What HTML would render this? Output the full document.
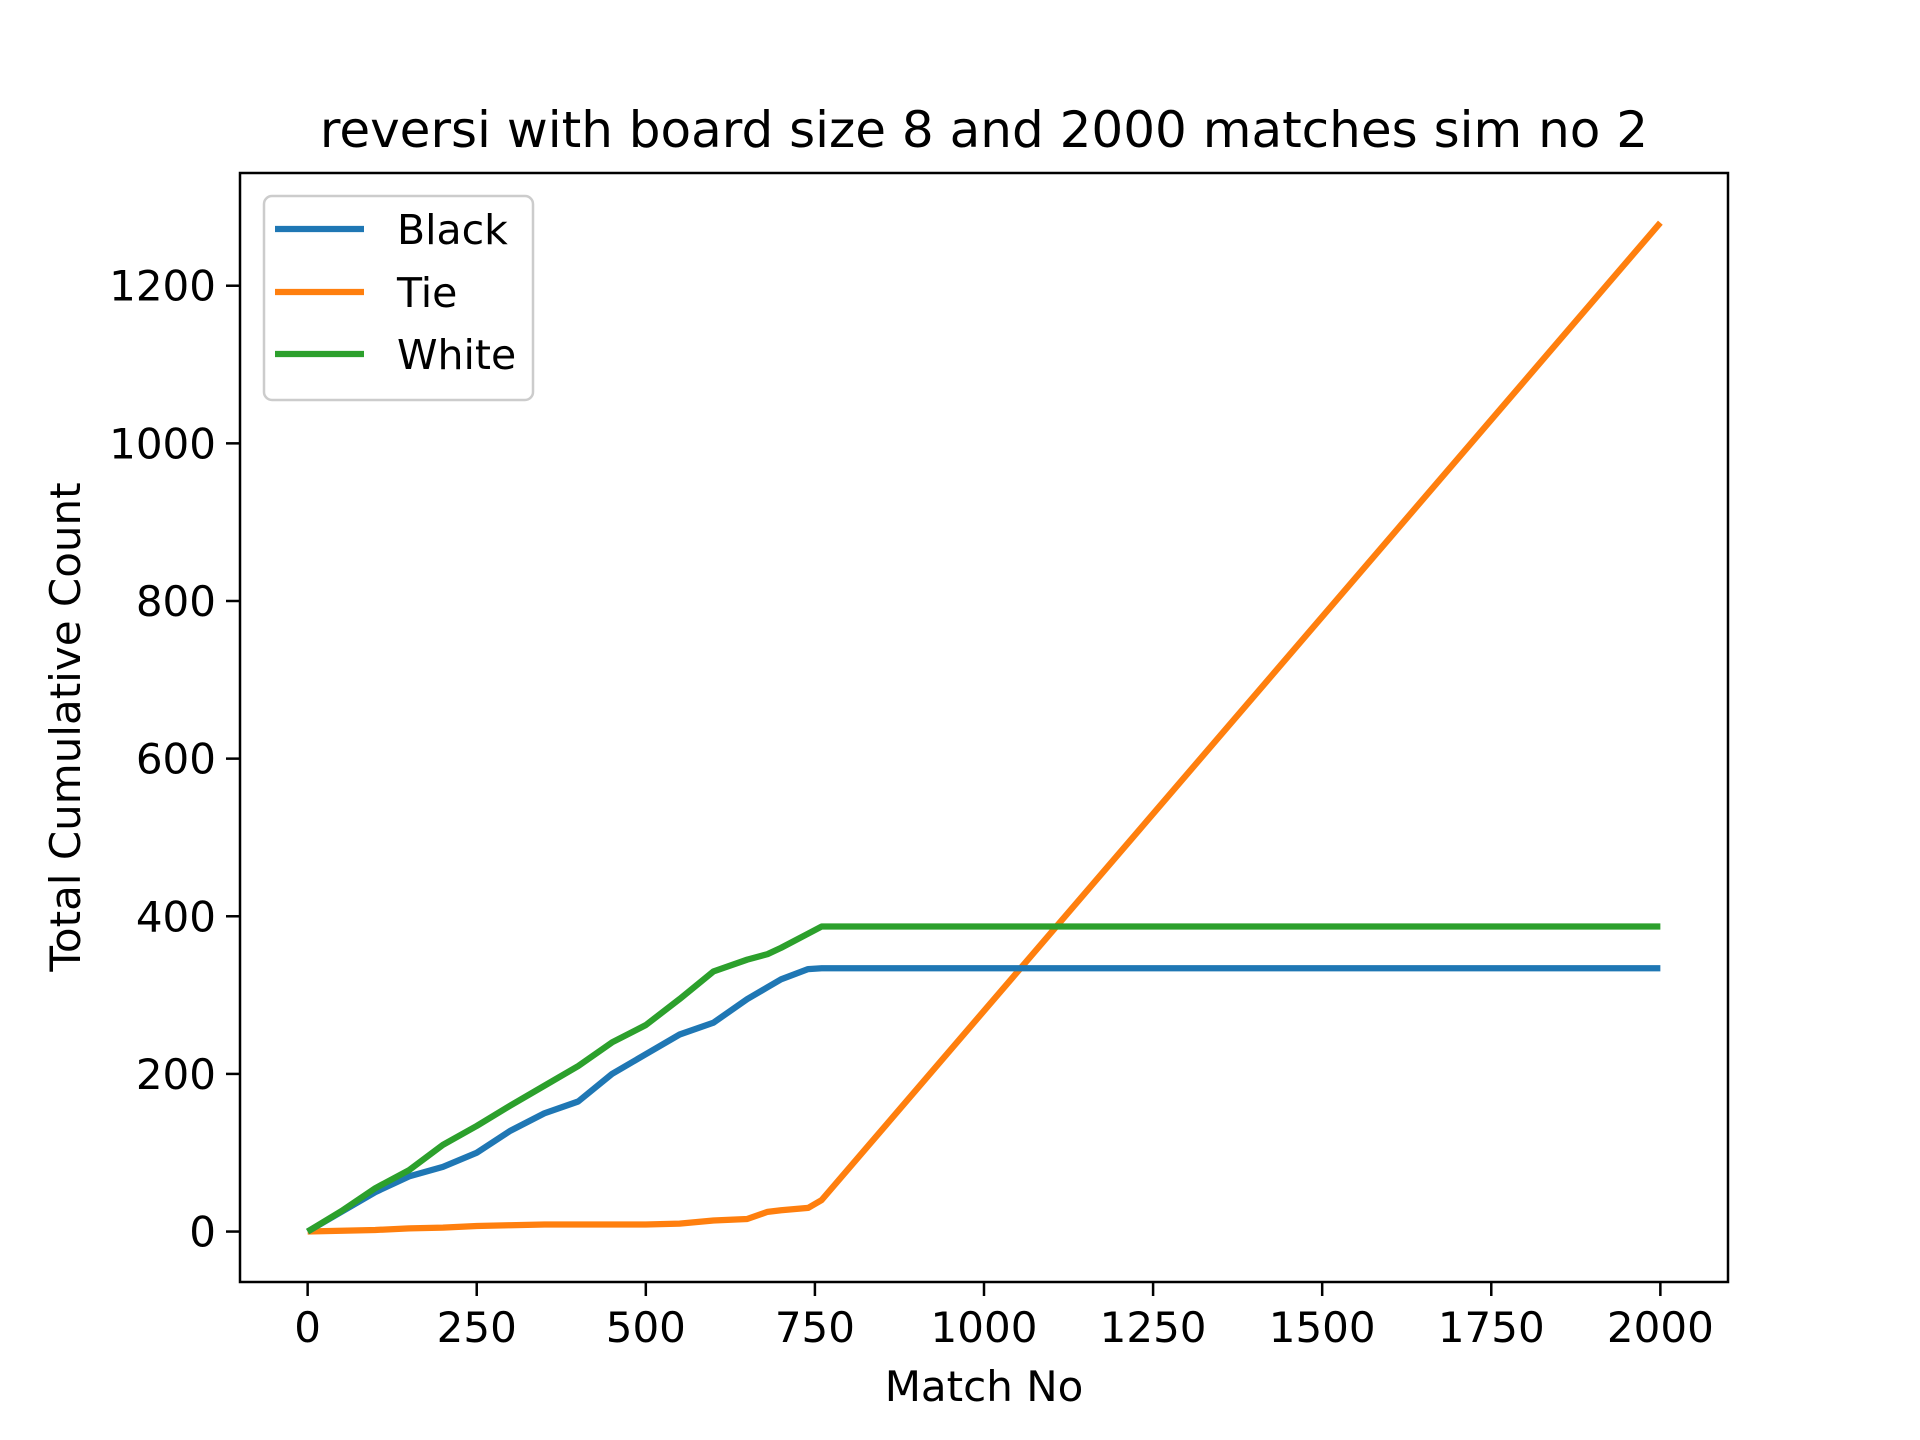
<!DOCTYPE html>
<html><head><meta charset="utf-8"><style>
html,body{margin:0;padding:0;background:#fff;}
svg{display:block;font-family:"DejaVu Sans","Liberation Sans",sans-serif;}
</style></head><body>
<svg id="chart" width="1920" height="1440" viewBox="0 0 1920 1440" xmlns="http://www.w3.org/2000/svg">
<rect width="1920" height="1440" fill="#fff"/>
<text x="984" y="147" font-size="50" text-anchor="middle">reversi with board size 8 and 2000 matches sim no 2</text>
<g id="plot"></g>
<rect x="240" y="173" width="1488" height="1109" fill="none" stroke="#000" stroke-width="2.5"/>
<g id="ticks"></g>
<text x="984" y="1401" font-size="42" text-anchor="middle">Match No</text>
<text transform="translate(80,727) rotate(-90)" font-size="42" text-anchor="middle">Total Cumulative Count</text>
<g>
<rect x="264" y="196" width="269" height="204" rx="8" fill="#fff" fill-opacity="0.8" stroke="#ccc" stroke-width="2.5"/>
<line x1="275" y1="229" x2="364" y2="229" stroke="#1f77b4" stroke-width="6.25"/>
<text x="397" y="244" font-size="41">Black</text>
<line x1="275" y1="292" x2="364" y2="292" stroke="#ff7f0e" stroke-width="6.25"/>
<text x="397" y="307" font-size="41">Tie</text>
<line x1="275" y1="354" x2="364" y2="354" stroke="#2ca02c" stroke-width="6.25"/>
<text x="397" y="369" font-size="41">White</text>
</g>
</svg>
<script>
const matches = [0,50,100,150,200,250,300,350,400,450,500,550,600,650,680,700,740,760,2000];
const blackVals = [0,25,50,70,82,100,128,150,165,200,225,250,265,295,310,320,333,334,334];
const tieVals = [0,1,2,4,5,7,8,9,9,9,9,10,14,16,25,27,30,40,1280];
const whiteVals = [0,26,55,78,110,134,160,185,210,240,262,295,330,345,352,360,378,387,387];
const xTicks = [0,250,500,750,1000,1250,1500,1750,2000];
const yTicks = [0,200,400,600,800,1000,1200];

const X0=240,X1=1728,Y0=1282,Y1=173;
const xmin=-100,xmax=2100,ymin=-64,ymax=1343;
function sx(v){return X0+(v-xmin)/(xmax-xmin)*(X1-X0);}
function sy(v){return Y0-(v-ymin)/(ymax-ymin)*(Y0-Y1);}
const NS="http://www.w3.org/2000/svg";
const plot=document.getElementById('plot');
const ticks=document.getElementById('ticks');
function addSeries(vals,color,name){
  const p=document.createElementNS(NS,'polyline');
  p.setAttribute('points',matches.map((m,i)=>sx(m)+','+sy(vals[i])).join(' '));
  p.setAttribute('fill','none');p.setAttribute('stroke',color);
  p.setAttribute('stroke-width','6.25');p.setAttribute('stroke-linejoin','round');
  
  
  plot.appendChild(p);
}
addSeries(tieVals,'#ff7f0e','tie-line');
addSeries(blackVals,'#1f77b4','black-line');
addSeries(whiteVals,'#2ca02c','white-line');
xTicks.forEach(t=>{
  const l=document.createElementNS(NS,'line');
  l.setAttribute('x1',sx(t));l.setAttribute('x2',sx(t));l.setAttribute('y1',Y0);l.setAttribute('y2',Y0+14);
  l.setAttribute('stroke','#000');l.setAttribute('stroke-width','2.5');
  
  
  ticks.appendChild(l);
  const tx=document.createElementNS(NS,'text');
  tx.setAttribute('x',sx(t));tx.setAttribute('y',Y0+60);tx.setAttribute('font-size','42');tx.setAttribute('text-anchor','middle');
  tx.textContent=t;
  
  
  ticks.appendChild(tx);
});
yTicks.forEach(t=>{
  const l=document.createElementNS(NS,'line');
  l.setAttribute('x1',X0-14);l.setAttribute('x2',X0);l.setAttribute('y1',sy(t));l.setAttribute('y2',sy(t));
  l.setAttribute('stroke','#000');l.setAttribute('stroke-width','2.5');
  
  
  ticks.appendChild(l);
  const tx=document.createElementNS(NS,'text');
  tx.setAttribute('x',X0-24);tx.setAttribute('y',sy(t)+15);tx.setAttribute('font-size','42');tx.setAttribute('text-anchor','end');
  tx.textContent=t;
  
  
  ticks.appendChild(tx);
});
</script>
</body></html>
